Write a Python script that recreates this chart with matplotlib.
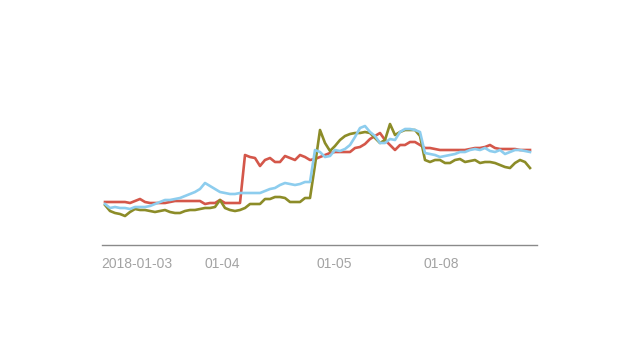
import matplotlib
matplotlib.use("Agg")
import matplotlib.pyplot as plt
import numpy as np

tick_labels = ["2018-01-03", "01-04", "01-05", "01-08"]
tick_pos = [6.4, 23.4, 45.8, 67.2]

red = [48,48,48,48,48,47,49,51,48,47,
       47,47,47,48,49,49,49,49,49,49,
       46,47,47,50,47,47,47,47,95,93,
       92,84,90,92,88,88,94,92,90,95,
       93,90,91,93,95,97,98,98,98,98,
       102,103,106,111,114,117,110,105,100,105,
       105,108,108,105,102,102,101,100,100,100,
       100,100,100,101,102,102,103,105,102,101,
       101,101,101,100,100,100]

blue = [46,42,43,42,42,41,43,43,43,44,
        46,48,50,50,51,52,54,56,58,61,
        67,64,61,58,57,56,56,57,57,57,
        57,57,59,61,62,65,67,66,65,66,
        68,68,100,98,93,94,100,99,101,105,
        113,122,124,118,114,107,107,111,110,118,
        121,121,120,118,97,96,95,93,94,95,
        96,98,98,100,101,100,102,99,98,100,
        96,98,100,100,99,98]

olive = [45,39,37,36,34,38,41,40,40,39,
         38,39,40,38,37,37,39,40,40,41,
         42,42,43,50,42,40,39,40,42,46,
         46,46,51,51,53,53,52,48,48,48,
         52,52,85,120,107,99,104,110,114,116,
         117,117,118,117,112,107,110,126,115,118,
         120,120,120,114,90,88,90,90,87,87,
         90,91,88,89,90,87,88,88,87,85,
         83,82,87,90,88,82]

x = np.arange(len(red))

fig = plt.figure(figsize=(6.4, 3.64), dpi=100)
ax = fig.add_axes([102/640, (364-245)/364, 435/640, 200/364])

ax.plot(x, red, color="#d4574a", lw=1.9, solid_joinstyle="round")
ax.plot(x, olive, color="#8c8c28", lw=1.9, solid_joinstyle="round")
ax.plot(x, blue, color="#8dcdee", lw=1.9, solid_joinstyle="round")

ax.set_xlim(-0.6, 86.4)
ax.set_ylim(5, 205)

for s in ["top", "right", "left"]:
    ax.spines[s].set_visible(False)
ax.spines["bottom"].set_color("#8a8a8a")
ax.spines["bottom"].set_linewidth(1.0)
ax.set_yticks([])
ax.set_xticks(tick_pos)
ax.set_xticklabels(tick_labels, fontsize=10, color="#a3a3a3", family="Liberation Sans")
ax.tick_params(axis="x", length=0, pad=9)

fig.savefig("out.png", dpi=100)
